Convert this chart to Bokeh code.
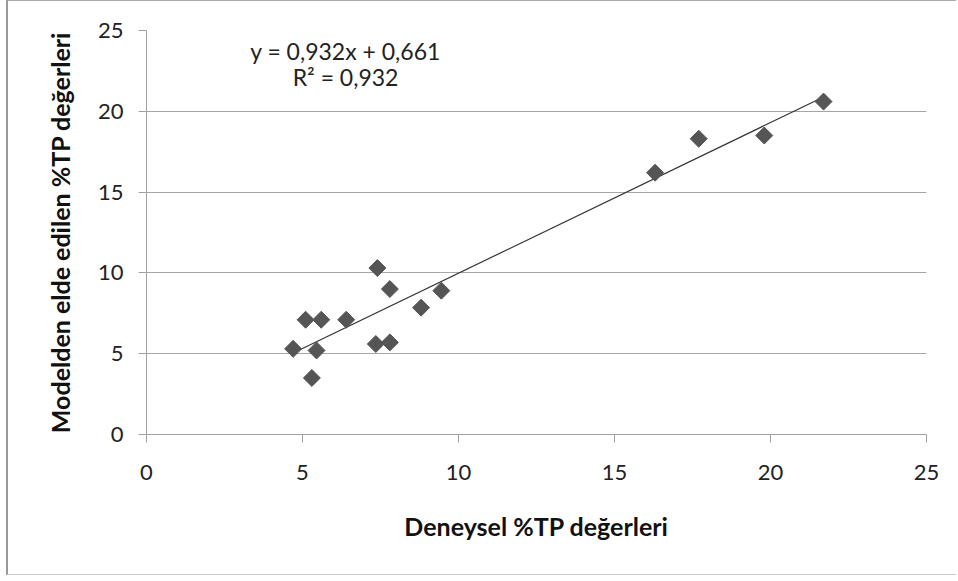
from bokeh.plotting import figure
from bokeh.embed import file_html
from bokeh.resources import INLINE
from bokeh.models import ColumnDataSource, FixedTicker, Label
import math

# Data
deneysel = [4.7, 5.1, 5.3, 5.45, 5.6, 6.4, 7.4, 7.35, 7.8, 7.8, 8.8, 9.45, 16.3, 17.7, 19.8, 21.7]
model = [5.3, 7.1, 3.5, 5.2, 7.1, 7.1, 10.3, 5.6, 9.0, 5.7, 7.85, 8.9, 16.2, 18.3, 18.5, 20.6]
slope = 0.932
intercept = 0.661
r2 = 0.932
ticks = [0, 5, 10, 15, 20, 25]
x_title = "Deneysel %TP değerleri"
y_title = "Modelden elde edilen %TP değerleri"
eq_text = "y = 0,932x + 0,661"
r2_text = "R² = 0,932"

FONT = "Lato"

p = figure(width=950, height=575, output_backend="svg", toolbar_location=None,
           x_range=(0, 25), y_range=(0, 25),
           min_border_left=138, min_border_right=32, min_border_top=29, min_border_bottom=142)
p.styles = {"margin-left": "6px", "border-left": "2px solid #999999",
            "border-top": "1px solid #aaaaaa", "border-bottom": "1px solid #cccccc"}
p.outline_line_color = None
p.background_fill_color = "white"
p.border_fill_color = "white"

p.xgrid.grid_line_color = None
p.ygrid.grid_line_color = "#a6a6a6"
p.ygrid.grid_line_width = 1

for ax in (p.xaxis[0], p.yaxis[0]):
    ax.ticker = FixedTicker(ticks=ticks)
    ax.axis_line_color = "#a0a0a0"
    ax.major_tick_line_color = "#a0a0a0"
    ax.major_tick_in = 0
    ax.major_tick_out = 8
    ax.minor_tick_line_color = None
    ax.major_label_text_font = FONT
    ax.major_label_text_font_size = "22px"
    ax.major_label_text_color = "#222222"
    ax.axis_label_text_font = FONT
    ax.axis_label_text_font_size = "25px"
    ax.axis_label_text_font_style = "bold"
    ax.axis_label_text_color = "#111111"

p.xaxis.axis_label = x_title
p.yaxis.axis_label = y_title
p.xaxis.major_label_standoff = 22
p.xaxis.axis_label_standoff = 28
p.yaxis.major_label_standoff = 15
p.yaxis.axis_label_standoff = 20

src = ColumnDataSource(dict(x=deneysel, y=model))

xmin, xmax = min(deneysel), max(deneysel)
p.line([xmin, xmax], [slope * xmin + intercept, slope * xmax + intercept],
       line_color="#333333", line_width=1.2)

p.scatter("x", "y", source=src, marker="square", size=12, angle=math.pi / 4,
          fill_color="#555555", line_color="#555555")

p.add_layout(Label(x=6.38, y=23.75, text=eq_text, text_align="center", text_baseline="middle",
                   text_font=FONT, text_font_size="23px", text_color="#222222"))
p.add_layout(Label(x=6.38, y=22.1, text=r2_text, text_align="center", text_baseline="middle",
                   text_font=FONT, text_font_size="23px", text_color="#222222"))

open("out.html", "w").write(file_html(p, INLINE))
